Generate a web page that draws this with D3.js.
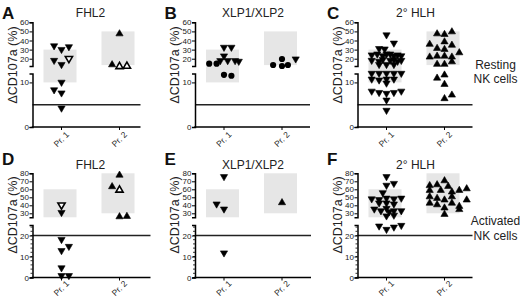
<!DOCTYPE html>
<html><head><meta charset="utf-8">
<script src="https://cdnjs.cloudflare.com/ajax/libs/d3/7.8.5/d3.min.js"></script>
<style>body{margin:0;background:#fff}svg{display:block}text{font-family:"Liberation Sans",Arial,sans-serif}</style>
</head><body><svg id="c" width="520" height="299"></svg>
<script>
// ---------- data ----------
const categories = ["Pr. 1", "Pr. 2"];
const panelLetters = ["A", "B", "C", "D", "E", "F"];
const panelTitles = ["FHL2", "XLP1/XLP2", "2° HLH", "FHL2", "XLP1/XLP2", "2° HLH"];
const rowLabels = [["Resting", "NK cells"], ["Activated", "NK cells"]];
const yAxisTitle = "ΔCD107a (%)";
const restingTicksLow = [0, 10];
const restingTicksHigh = [20, 30, 40, 50, 60];
const activatedTicksLow = [0, 10, 20];
const activatedTicksHigh = [30, 40, 50, 60, 70, 80];
const thresholds = [5, 20];
const restingRef = [[10, 30], [13, 50]];
const activatedRef = [[25, 60], [30, 80]];

// marker codes: d = filled down-triangle, do = open down-triangle, u = filled up-triangle, uo = open up-triangle, c = filled circle
const aPr1Values = [33, 29, 32, 17, 12.5, 19, 9.8, 8.1, 7.4, 4.0];
const aPr1Lanes  = [-2, 0, 2, -2, 0, 2, 0, -2, 0, 0];
const aPr1Marks  = ["d","d","d","d","d","do","d","d","d","d"];
const aPr2Values = [48.5, 14.5, 12.5, 13];
const aPr2Lanes  = [0, -2, 0, 2];
const aPr2Marks  = ["u","u","uo","uo"];

const bPr1Values = [31.4, 31.4, 21.9, 14.5, 14.5, 16.7, 11.7, 16.7, 11.5, 16.7, 16];
const bPr1Lanes  = [0, 2, 0, -4, -2, -1, 0, 1, 2, 3, 4];
const bPr1Marks  = ["d","d","d","c","c","d","c","d","c","d","d"];
const bPr2Values = [13.1, 19.7, 12, 13.1, 18.6];
const bPr2Lanes  = [-2.4, 0, 0, 1.6, 3.7];
const bPr2Marks  = ["c","c","c","c","d"];

const cPr1Values = [45, 36, 30, 29.5, 23, 24, 22, 24, 24, 22, 23, 22, 17, 16, 18, 17, 18, 16, 17, 12.5, 12.5, 12.5, 11.8, 11.8, 11.8, 11.8, 11.8, 10.5, 10.3, 10.5, 10.5, 9.6, 7.8, 7.5, 7.3, 7.5, 7.8, 5.8, 3.5];
const cPr1Lanes  = [0, 2, -2, -0.5, -4, -2.5, -1, 0, 1, 2, 3, 4, -4, -2, -1, 1, 2, 3, 4, -2, 0, 2, -4, -2, 0, 2, 4, -4, -2, 0, 2, 0, -4, -2, 0, 2, 4, 0, 0];
const cPr2Values = [50.7, 47.8, 48.5, 37, 39.7, 36, 27.7, 32.5, 31.4, 23, 24, 24, 23, 15, 15, 17.8, 11.2, 11.9, 9.8, 6.6, 7.4];
const cPr2Lanes  = [2, 0, -2, -4, 0, 2, 4, -2, 0, -4, -2, 0, 2, -2, 0, 2, -2, 0, 0, 0, 2];

const dPr1Values = [39, 29.7, 17.6, 12.3, 14.3, 4.1, 0.4, 0.4];
const dPr1Lanes  = [0, 0, 0, 0, 2, 0, 0, 2];
const dPr1Marks  = ["do","d","d","d","d","d","d","d"];
const dPr2Values = [79, 64.6, 60.4, 27, 27.5];
const dPr2Lanes  = [0, -2, 0, 0, 2];
const dPr2Marks  = ["u","u","uo","u","u"];

const ePr1Values = [74.5, 40.3, 34, 11.2];
const ePr1Lanes  = [0, -2, 0, 0];
const ePr2Values = [44.6];
const ePr2Lanes  = [0];

const fPr1Values = [74.5, 63.7, 66, 54.4, 46.7, 45.8, 47.6, 46.7, 47.6, 41.6, 41.6, 40.3, 34, 31.8, 34.8, 30.5, 31.8, 31.8, 25.4, 26.3, 24, 22.4, 23.5, 24.3];
const fPr1Lanes  = [0, 0, 2, -1, -4, -2, 0, 2, 4, -2, 0, 2, -3.3, -1.5, 0, 0.7, 2, 4, 0, 2, -2, 0, 2, 4];
const fPr2Values = [72, 66, 67, 65, 60, 60, 58, 60, 62, 52, 50, 48, 52, 48, 44, 42, 44, 40, 38, 36, 30];
const fPr2Lanes  = [0, -4, -2, 1, -4, -1, 2, 4, 6, -4, -2, 0, 2, 6, -4, -2, 2, 4, 0, 4, 0];

const fill = (n, m) => Array(n).fill(m);
const panels = [
  { row: 0, col: 0, len: 108, groups: [[aPr1Values, aPr1Lanes, aPr1Marks], [aPr2Values, aPr2Lanes, aPr2Marks]] },
  { row: 0, col: 1, len: 115, groups: [[bPr1Values, bPr1Lanes, bPr1Marks], [bPr2Values, bPr2Lanes, bPr2Marks]] },
  { row: 0, col: 2, len: 115, groups: [[cPr1Values, cPr1Lanes, fill(cPr1Values.length, "d")], [cPr2Values, cPr2Lanes, fill(cPr2Values.length, "u")]] },
  { row: 1, col: 0, len: 118, groups: [[dPr1Values, dPr1Lanes, dPr1Marks], [dPr2Values, dPr2Lanes, dPr2Marks]] },
  { row: 1, col: 1, len: 116, groups: [[ePr1Values, ePr1Lanes, fill(ePr1Values.length, "d")], [ePr2Values, ePr2Lanes, fill(ePr2Values.length, "u")]] },
  { row: 1, col: 2, len: 115, groups: [[fPr1Values, fPr1Lanes, fill(fPr1Values.length, "d")], [fPr2Values, fPr2Lanes, fill(fPr2Values.length, "u")]] }
];

// ---------- layout ----------
const svg = d3.select("#c");
const colX = [32.5, 195, 357.5];
const laneUnit = 3.7;
const rows = [
  { low: d3.scaleLinear().domain([0, 12]).range([127, 73.5]),
    high: d3.scaleLinear().domain([12, 60]).range([66, 22.3]),
    split: 12, lowTicks: restingTicksLow, highTicks: restingTicksHigh, minor: null,
    threshold: thresholds[0], ref: restingRef, axisY: 127, titleY: 17, letterY: 19, labelY: 65, xlab: 4 },
  { low: d3.scaleLinear().domain([0, 25]).range([277.5, 225]),
    high: d3.scaleLinear().domain([25, 80]).range([217.3, 173.3]),
    split: 25, lowTicks: activatedTicksLow, highTicks: activatedTicksHigh, minor: d3.range(0, 25, 2),
    threshold: thresholds[1], ref: activatedRef, axisY: 277.5, titleY: 169, letterY: 165, labelY: 215, xlab: 2.5 }
];
const yMap = (r, v) => v < r.split ? r.low(v) : r.high(v);

function marker(sel, m) {
  const w = 3.6, h = 3.1;
  if (m === "c") {
    sel.append("circle").attr("r", 3.1).attr("fill", "#000");
  } else if (m === "d" || m === "do") {
    sel.append("path").attr("d", `M${-w},${-h}L${w},${-h}L0,${h}Z`)
      .attr("fill", m === "d" ? "#000" : "#fff").attr("stroke", "#000").attr("stroke-width", m === "d" ? 0.6 : 1.6);
  } else {
    sel.append("path").attr("d", `M${-w},${h}L${w},${h}L0,${-h}Z`)
      .attr("fill", m === "u" ? "#000" : "#fff").attr("stroke", "#000").attr("stroke-width", m === "u" ? 0.6 : 1.6);
  }
}

panels.forEach((p, i) => {
  const r = rows[p.row];
  const ax = colX[p.col];
  const axisLen = p.len;
  const x = d3.scalePoint().domain(categories).range([ax + 29, ax + 87]);
  const g = svg.append("g");

  // reference boxes
  r.ref.forEach((rg, k) => {
    const cx = x(categories[k]) - 1.5;
    g.append("rect").attr("x", cx - 16.5).attr("width", 33)
      .attr("y", yMap(r, rg[1])).attr("height", yMap(r, rg[0]) - yMap(r, rg[1]))
      .attr("fill", "#e6e6e6");
  });

  // threshold line
  g.append("line").attr("x1", ax).attr("x2", ax + axisLen)
    .attr("y1", yMap(r, r.threshold)).attr("y2", yMap(r, r.threshold))
    .attr("stroke", "#222").attr("stroke-width", 1.6);

  // y axis segments
  [[r.low, r.lowTicks], [r.high, r.highTicks]].forEach(([sc, tv]) => {
    const ag = g.append("g").attr("transform", `translate(${ax},0)`)
      .call(d3.axisLeft(sc).tickValues(tv).tickSize(3).tickSizeOuter(3).tickPadding(0.5));
    ag.select(".domain").attr("stroke-width", 1.5);
    ag.selectAll(".tick line").attr("stroke-width", 1);
    ag.selectAll("text").attr("font-size", 8).attr("font-family", "Liberation Sans, Arial, sans-serif").attr("fill", "#222");
  });
  if (r.minor) {
    g.selectAll(".minor").data(r.minor).enter().append("line")
      .attr("x1", ax - 2).attr("x2", ax).attr("y1", d => r.low(d)).attr("y2", d => r.low(d))
      .attr("stroke", "#000").attr("stroke-width", 0.8);
  }

  // x axis
  g.append("line").attr("x1", ax - 0.75).attr("x2", ax + axisLen).attr("y1", r.axisY).attr("y2", r.axisY)
    .attr("stroke", "#000").attr("stroke-width", 1.6);
  categories.forEach(c => {
    g.append("line").attr("x1", x(c)).attr("x2", x(c)).attr("y1", r.axisY).attr("y2", r.axisY + 3)
      .attr("stroke", "#000").attr("stroke-width", 1);
    g.append("text").text(c).attr("text-anchor", "end").attr("font-size", 8.5).attr("fill", "#222")
      .attr("transform", `translate(${x(c) + 4},${r.axisY + r.xlab}) rotate(-45)`).attr("dy", "0.7em");
  });

  // y title
  g.append("text").text(yAxisTitle).attr("text-anchor", "middle").attr("font-size", 12.5).attr("fill", "#222")
    .attr("transform", `translate(${ax - 16},${r.labelY}) rotate(-90)`);

  // title & letter
  g.append("text").text(panelTitles[i]).attr("x", (x(categories[0]) + x(categories[1])) / 2).attr("y", r.titleY)
    .attr("text-anchor", "middle").attr("font-size", 12).attr("fill", "#222");
  g.append("text").text(panelLetters[i]).attr("x", ax - 30.5).attr("y", r.letterY)
    .attr("font-size", 17).attr("font-weight", "bold").attr("fill", "#111");

  // points
  p.groups.forEach((grp, k) => {
    const [vals, lanes, marks] = grp;
    vals.forEach((v, j) => {
      const mg = g.append("g").attr("transform", `translate(${x(categories[k]) + lanes[j] * laneUnit},${yMap(r, v)})`);
      marker(mg, marks[j]);
    });
  });
});

// row labels
rowLabels.forEach((lines, k) => {
  const ys = k === 0 ? [68.5, 83] : [225, 239.5];
  lines.forEach((t, j) => {
    svg.append("text").text(t).attr("x", 495.5).attr("y", ys[j]).attr("text-anchor", "middle")
      .attr("font-size", 12).attr("fill", "#222");
  });
});
</script></body></html>
